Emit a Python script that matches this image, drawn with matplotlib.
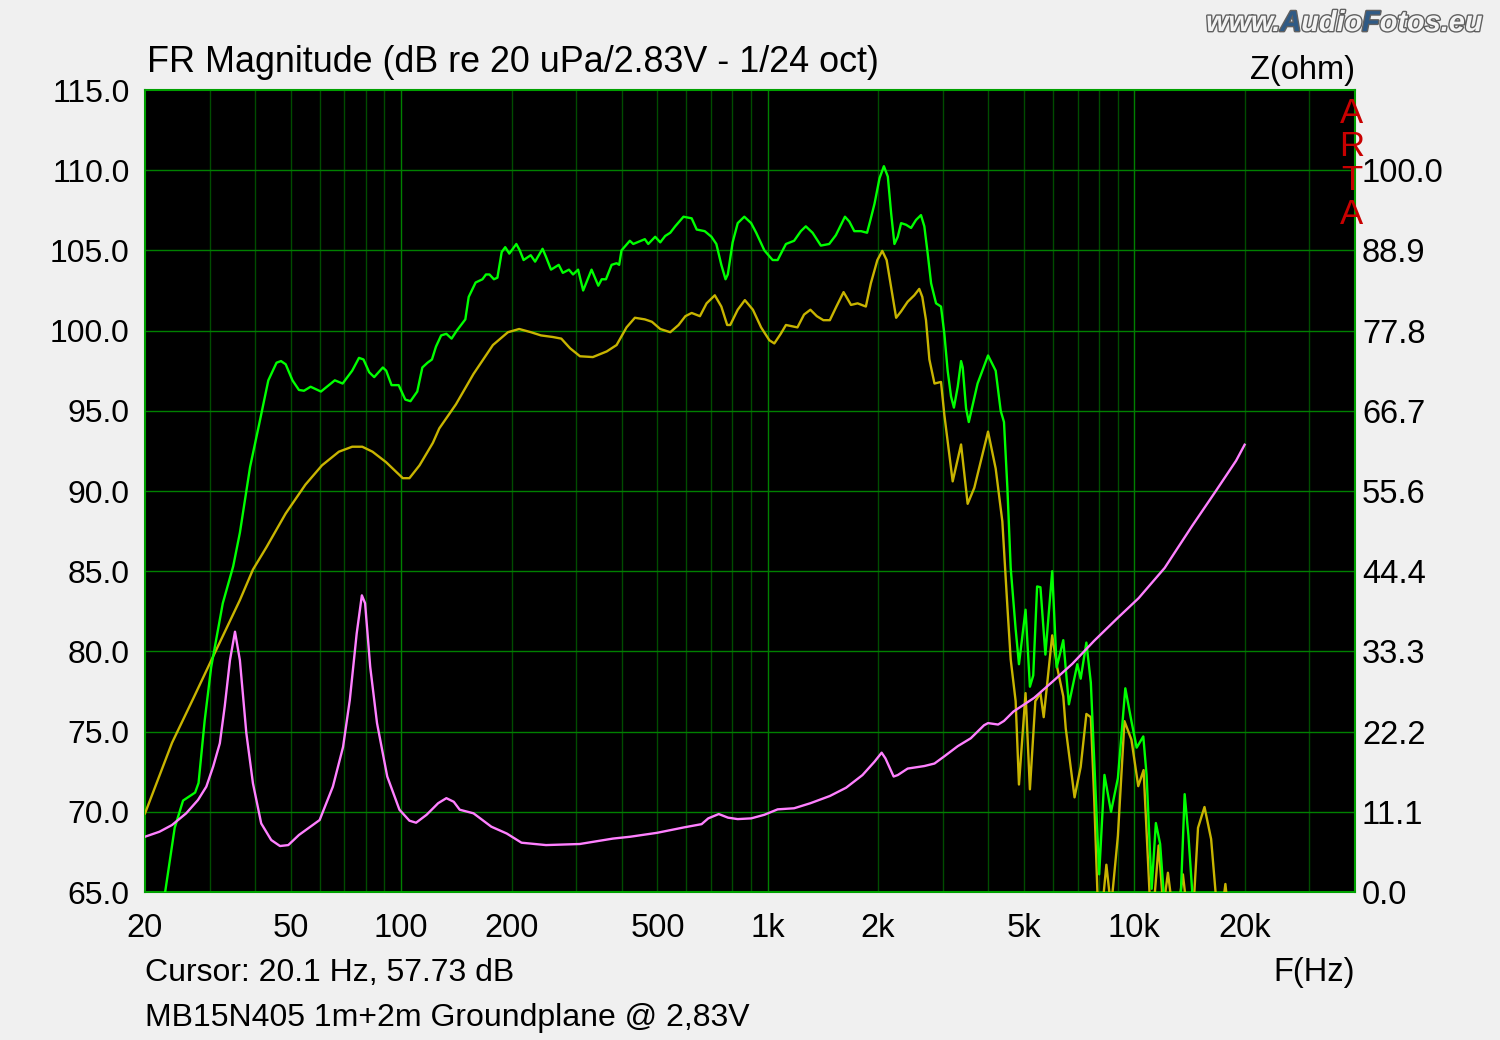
import numpy as np
import matplotlib
matplotlib.use("Agg")
import matplotlib.pyplot as plt
import matplotlib.patheffects as pe

# frequency response, on axis (green), Hz / dB
spl_on_f = [21.5, 22.7, 24.1, 25.4, 27.4, 28.0, 29.1, 30.3, 32.6, 34.8, 36.3, 38.7, 41.0, 43.4, 45.7, 47.0,
            48.4, 50.5, 52.6, 54.3, 56.6, 60.4, 65.9, 69.2, 73.5, 76.7, 78.9, 81.8, 84.4, 89.1, 91.0, 94.1,
            98.4, 102.6, 106.0, 110.6, 114.2, 118.0, 121.3, 124.4, 128.5, 132.8, 137.2, 141.8, 149.6, 152.8,
            159.6, 166.6, 170.3, 174.1, 179.0, 183.0, 188.0, 192.2, 197.2, 206.1, 210.6, 215.7, 225.6, 231.9,
            243.0, 248.3, 256.3, 269.0, 276.0, 286.8, 294.3, 303.8, 313.6, 330.6, 344.9, 352.3, 361.9, 375.0,
            386.9, 393.2, 399.0, 420.5, 429.6, 462, 472, 493, 509, 525, 542, 559, 589, 620, 640, 673, 702,
            724, 747, 767, 778, 802, 828, 863, 901, 930, 979, 1031, 1064, 1121, 1180, 1231, 1270, 1325, 1396,
            1471, 1534, 1624, 1669, 1722, 1797, 1866, 1906, 1955, 2018, 2074, 2126, 2171, 2216, 2263, 2311,
            2384, 2460, 2538, 2618, 2674, 2731, 2790, 2878, 2969, 3032, 3096, 3162, 3220, 3298, 3368, 3403,
            3475, 3535, 3736, 3990, 4186, 4320, 4410, 4505, 4600, 4745, 4845, 5050, 5190, 5300, 5430, 5545,
            5720, 5970, 6140, 6400, 6630, 6990, 7140, 7400, 7610, 7770, 8020, 8290, 8640, 9020, 9450, 9820,
            10150, 10580, 10800, 11150, 11450, 11760, 12020, 12400, 13000, 13400, 13720, 14050, 14390, 14800]
spl_on_db = [62.0, 65.0, 69.0, 70.7, 71.2, 71.8, 75.7, 79.0, 83.0, 85.3, 87.4, 91.5, 94.2, 96.9, 98.0, 98.1,
             97.9, 96.9, 96.3, 96.25, 96.5, 96.2, 96.9, 96.7, 97.5, 98.3, 98.2, 97.4, 97.1, 97.7, 97.5, 96.6,
             96.6, 95.7, 95.6, 96.2, 97.7, 98.0, 98.2, 99.0, 99.7, 99.8, 99.5, 100.0, 100.7, 102.1,
             103.0, 103.2, 103.5, 103.5, 103.2, 103.3, 104.9, 105.2, 104.8, 105.4, 105.0, 104.4, 104.7, 104.3,
             105.1, 104.6, 103.8, 104.1, 103.6, 103.8, 103.5, 103.8, 102.5, 103.8, 102.8, 103.2, 103.2, 104.1,
             104.2, 104.1, 105.0, 105.6, 105.4, 105.7, 105.4, 105.85, 105.5, 105.9, 106.1, 106.5, 107.1, 107.0,
             106.3, 106.2, 105.85, 105.4, 104.1, 103.2, 103.5, 105.5, 106.7, 107.1, 106.7, 106.1, 105.0, 104.4,
             104.4, 105.4, 105.6, 106.2, 106.5, 106.1, 105.3, 105.4, 105.95, 107.1, 106.8, 106.2, 106.2, 106.1,
             106.9, 107.9, 109.5, 110.25, 109.6, 107.3, 105.4, 105.85, 106.7, 106.6, 106.4, 106.9, 107.2,
             106.5, 104.8, 102.95, 101.7, 101.5, 99.8, 97.5, 95.9, 95.2, 96.5, 98.1, 97.7, 95.15, 94.3, 96.7,
             98.45, 97.5, 95.0, 94.3, 90.2, 85.2, 81.4, 79.2, 82.6, 77.8, 78.5, 84.05, 84.0, 79.8, 85.0, 79.0,
             80.7, 76.7, 79.2, 78.3, 80.55, 78.05, 73.3, 66.1, 72.3, 70.0, 72.1, 77.7, 75.65, 74.0, 74.7, 72.3,
             65.2, 69.3, 68.0, 65.0, 62.0, 62.0, 65.0, 71.1, 68.5, 65.0, 60.0]

# second measurement (yellow), Hz / dB
spl_gp_f = [20, 23.7, 27.0, 30.7, 36.3, 39.4, 42.9, 48.4, 54.8, 60.8, 67.6, 73.5, 78.3, 83.5, 90.9, 101,
            105.3, 112.2, 122, 127, 141, 157.5, 177.9, 195.5, 209.8, 225.9, 240.6, 259.3, 273.4, 288.8, 307.4,
            333.3, 363.6, 386.9, 411.8, 434, 462, 483, 509, 542, 571, 596, 620, 653, 681, 717, 747, 775, 790,
            828, 866, 911, 959, 1010, 1042, 1085, 1121, 1205, 1256, 1307, 1361, 1418, 1477, 1539, 1610, 1687,
            1758, 1852, 1911, 1991, 2053, 2110, 2171, 2240, 2311, 2408, 2510, 2590, 2640, 2702, 2760, 2850,
            2969, 3032, 3195, 3368, 3510, 3660, 3990, 4186, 4365, 4505, 4600, 4745, 4845, 5050, 5190, 5370,
            5545, 5660, 5970, 6160, 6400, 6500, 6870, 7140, 7400, 7610, 7770, 7930, 8100, 8390, 8640, 9020,
            9400, 9820, 10250, 10600, 11000, 11200, 11650, 12000, 12350, 12700, 13200, 13570, 13900, 14500,
            14920, 15540, 16200, 16800, 17400, 17720, 18000, 18500]
spl_gp_db = [69.9, 74.3, 77.0, 79.7, 83.2, 85.1, 86.5, 88.6, 90.4, 91.6, 92.45, 92.76, 92.76, 92.45, 91.8, 90.8,
             90.8, 91.6, 93.0, 93.9, 95.4, 97.3, 99.1, 99.9, 100.1, 99.9, 99.7, 99.6, 99.5, 98.9, 98.4,
             98.35, 98.7, 99.1, 100.2, 100.8, 100.7, 100.55, 100.1, 99.9, 100.35, 100.9, 101.1, 100.9, 101.7,
             102.2, 101.5, 100.35, 100.35, 101.3, 101.9, 101.3, 100.2, 99.4, 99.2, 99.8, 100.35, 100.2, 101.0,
             101.3, 100.9, 100.65, 100.65, 101.5, 102.4, 101.6, 101.7, 101.5, 102.95, 104.4, 104.97, 104.4,
             102.7, 100.8, 101.2, 101.8, 102.2, 102.6, 102.1, 100.65, 98.2, 96.7, 96.8, 94.75, 90.6, 92.9,
             89.2, 90.2, 93.7, 91.4, 88.1, 82.8, 79.5, 76.9, 71.7, 77.4, 71.4, 76.9, 77.4, 75.9, 81.0, 79.0,
             77.2, 75.2, 70.9, 72.8, 76.1, 75.9, 70.9, 65.0, 63.0, 66.7, 64.0, 68.5, 75.65, 74.5, 71.6, 72.6,
             65.0, 63.0, 67.9, 64.0, 66.2, 64.0, 64.0, 66.1, 64.0, 64.0, 69.0, 70.3, 68.3, 64.0, 64.0, 65.5,
             64.0, 60.0]

# impedance (magenta), Hz / ohm
imp_f = [20, 21.9, 23.7, 25.9, 27.9, 29.4, 30.7, 32.0, 33.0, 34.1, 35.2, 36.3, 37.8, 39.4, 41.5, 44.2, 46.7,
         49.2, 52.6, 59.9, 65.1, 69.4, 72.4, 75.6, 78.1, 79.7, 82.3, 85.9, 91.6, 98.9, 105.3, 109.8, 117.3,
         126.1, 132.8, 139.1, 144.4, 157.5, 176.1, 194.1, 212.9, 248.3, 307, 378, 422, 499, 592, 660, 688,
         735, 779, 828, 901, 979, 1064, 1180, 1307, 1477, 1636, 1813, 1955, 2045, 2095, 2205, 2263, 2408,
         2674, 2850, 3032, 3298, 3580, 3890, 3990, 4250, 4410, 4680, 5330, 6030, 6770, 7770, 9020, 10270,
         12100, 14370, 16660, 18950, 20000]
imp_ohm = [7.66, 8.35, 9.28, 10.9, 12.75, 14.6, 17.4, 20.6, 25.7, 32.1, 36.06, 32.1, 22.0, 15.06, 9.5, 7.2,
           6.37, 6.5, 7.9, 9.97, 14.6, 20.1, 26.6, 35.8, 41.1, 40.0, 31.2, 23.4, 16.0, 11.4, 9.88, 9.6, 10.7,
           12.3, 13.0, 12.5, 11.4, 10.9, 9.05, 8.1, 6.83, 6.5, 6.65, 7.4, 7.66, 8.2, 8.96, 9.4, 10.2, 10.8,
           10.3, 10.1, 10.2, 10.7, 11.45, 11.6, 12.3, 13.3, 14.45, 16.2, 18.05, 19.3, 18.5, 16.0, 16.2, 17.1,
           17.45, 17.8, 18.8, 20.2, 21.3, 23.1, 23.4, 23.2, 23.7, 25.0, 26.9, 29.3, 31.6, 34.8, 38.0, 40.7,
           44.9, 50.7, 55.5, 59.75, 61.97]

x_ticks = [20, 50, 100, 200, 500, 1000, 2000, 5000, 10000, 20000]
x_labels = ["20", "50", "100", "200", "500", "1k", "2k", "5k", "10k", "20k"]
x_grid = [30, 40, 50, 60, 70, 80, 90, 100, 200, 300, 400, 500, 600, 700, 800, 900, 1000,
          2000, 3000, 4000, 5000, 6000, 7000, 8000, 9000, 10000, 20000, 30000]
db_ticks = [65, 70, 75, 80, 85, 90, 95, 100, 105, 110, 115]
z_max = 1000 / 9
z_ticks = [i * 100 / 9 for i in range(10)]

plt.rcParams["font.family"] = ["Liberation Sans", "DejaVu Sans"]
fig = plt.figure(figsize=(15, 10.4), dpi=100, facecolor="#f0f0f0")
W, H = 1500, 1040
ax = fig.add_axes([145 / W, 1 - 892 / H, 1210 / W, 802 / H])
ax.set_facecolor("black")
ax.set_xscale("log")
ax.set_xlim(20, 40000)
ax.set_ylim(65, 115)

for f in x_grid:
    c = "#008000" if f in (100, 1000, 10000) else "#004c00"
    ax.axvline(f, color=c, lw=1, zorder=1)
for d in db_ticks[1:-1]:
    ax.axhline(d, color="#008000", lw=1, zorder=1)

ax.plot(spl_gp_f, spl_gp_db, color="#c8b400", lw=1.7, zorder=3)
ax.plot(spl_on_f, spl_on_db, color="#00ff00", lw=1.7, zorder=4)

ax.set_xticks(x_ticks)
ax.set_xticklabels(x_labels)
ax.xaxis.set_minor_locator(matplotlib.ticker.NullLocator())
ax.set_yticks(db_ticks)
ax.set_yticklabels([f"{d:.1f}" for d in db_ticks])
ax.tick_params(axis="x", length=0, pad=15, labelsize=23.5)
ax.tick_params(axis="y", length=0, pad=11, labelsize=23)
for s in ax.spines.values():
    s.set_color("#00a000")
    s.set_linewidth(1.5)

az = ax.twinx()
az.set_ylim(0, z_max)
az.plot(imp_f, imp_ohm, color="#ff80ff", lw=1.7, zorder=5)
az.set_yticks(z_ticks)
az.set_yticklabels([f"{z:.1f}" for z in z_ticks])
az.tick_params(axis="y", length=0, pad=5, labelsize=23.5)
for s in az.spines.values():
    s.set_visible(False)

def fx(px):
    return px / W

def fy(py):
    return 1 - py / H

fig.text(fx(147), fy(63), "FR Magnitude (dB re 20 uPa/2.83V - 1/24 oct)", fontsize=25.8, va="center", ha="left")
fig.text(fx(1355), fy(70), "Z(ohm)", fontsize=23.5, va="center", ha="right")
fig.text(fx(145), fy(973), "Cursor: 20.1 Hz, 57.73 dB", fontsize=23, va="center", ha="left")
fig.text(fx(1355), fy(973), "F(Hz)", fontsize=23.5, va="center", ha="right")
fig.text(fx(145), fy(1018), "MB15N405 1m+2m Groundplane @ 2,83V", fontsize=23, va="center", ha="left")

for i, ch in enumerate("ARTA"):
    fig.text(fx(1352), fy(113 + i * 34), ch, fontsize=25, color="#c80000", va="center", ha="center")

# watermark
renderer = fig.canvas.get_renderer()
xpos = 1206
for part, fill in [("www.", "#f4f4f4"), ("A", "#2f5a85"), ("udio", "#f4f4f4"),
                   ("F", "#2f5a85"), ("otos.eu", "#f4f4f4")]:
    t = fig.text(fx(xpos), fy(31), part, fontsize=20.8, fontweight="bold", style="italic",
                 family="Liberation Sans", color=fill, va="baseline", ha="left",
                 path_effects=[pe.Stroke(linewidth=2, foreground="#606060"), pe.Normal()])
    bb = t.get_window_extent(renderer)
    xpos += bb.width

fig.savefig("out.png", dpi=100, facecolor=fig.get_facecolor())
